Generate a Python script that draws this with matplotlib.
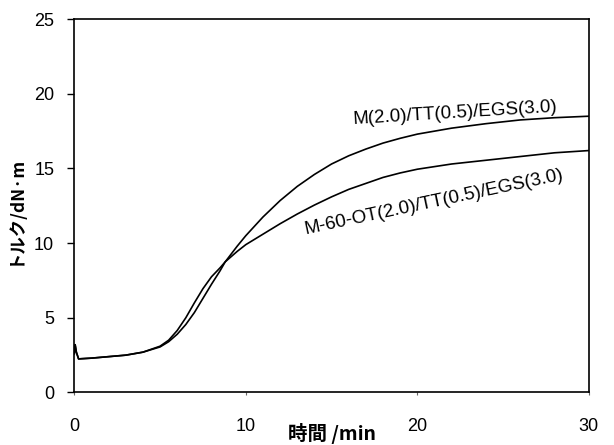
import matplotlib
matplotlib.use("Agg")
import matplotlib.pyplot as plt

plt.rcParams['font.family'] = ['Liberation Sans', 'DejaVu Sans']

# 時間 [min]
t = [0, 0.05, 0.12, 0.25, 1, 2, 3, 4, 5, 5.5, 6, 6.5, 7, 7.5, 8, 8.5, 8.8,
     9.5, 10, 11, 12, 13, 14, 15, 16, 17, 18, 19, 20, 22, 24, 26, 28, 30]

# M(2.0)/TT(0.5)/EGS(3.0)
torque_m = [2.6, 3.2, 2.7, 2.25, 2.3, 2.4, 2.5, 2.7, 3.05, 3.4, 3.9, 4.55, 5.35,
            6.3, 7.25, 8.15, 8.75, 9.8, 10.5, 11.75, 12.85, 13.8, 14.6, 15.3, 15.85,
            16.3, 16.7, 17.02, 17.3, 17.7, 18.0, 18.25, 18.4, 18.5]

# M-60-OT(2.0)/TT(0.5)/EGS(3.0)
torque_ot = [2.6, 3.2, 2.7, 2.25, 2.3, 2.4, 2.5, 2.7, 3.1, 3.5, 4.15, 5.0, 6.0,
             6.95, 7.75, 8.35, 8.75, 9.45, 9.9, 10.6, 11.3, 11.95, 12.55, 13.1, 13.6,
             14.0, 14.4, 14.7, 14.95, 15.3, 15.55, 15.8, 16.05, 16.2]

label_m = 'M(2.0)/TT(0.5)/EGS(3.0)'
label_ot = 'M-60-OT(2.0)/TT(0.5)/EGS(3.0)'

fig = plt.figure(figsize=(6.14, 4.45), dpi=100)
ax = fig.add_axes([0.121, 0.118, 0.838, 0.839])

ax.plot(t, torque_m, color='black', lw=1.2)
ax.plot(t, torque_ot, color='black', lw=1.2)

# 曲線ラベル
ax.text(22.2, 18.7, label_m, rotation=3.5, ha='center', va='center',
        rotation_mode='anchor', fontsize=13.5)
ax.text(21.0, 12.75, label_ot, rotation=12, ha='center', va='center',
        rotation_mode='anchor', fontsize=13.5)

ax.set_xlim(0, 30)
ax.set_ylim(0, 25)
ax.set_xticks([0, 10, 20, 30])
ax.set_yticks([0, 5, 10, 15, 20, 25])

for s in ax.spines.values():
    s.set_linewidth(1.2)

ax.tick_params(axis='y', direction='out', length=5, width=1.0, pad=9.5,
               labelsize=13)
ax.tick_params(axis='x', direction='out', length=2.5, width=0.8, pad=16,
               labelsize=13, color='0.4')

ax.set_xlabel('時間 /min', fontsize=14, fontweight='bold',
              family=['Noto Sans CJK JP', 'DejaVu Sans'])
ax.xaxis.set_label_coords(0.5, -0.082)
ax.set_ylabel('トルク/dN·m', fontsize=12.5, fontweight='bold',
              family=['Noto Sans CJK JP', 'DejaVu Sans'])
ax.yaxis.set_label_coords(-0.098, 0.49)

fig.savefig('out.png', dpi=100)
